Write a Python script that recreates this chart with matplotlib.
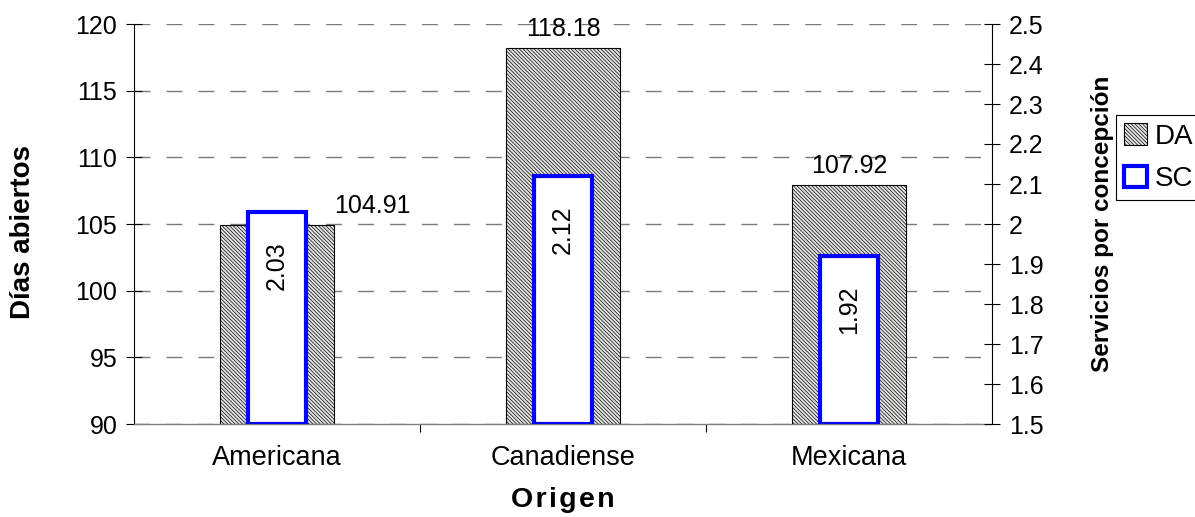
import matplotlib
matplotlib.use("Agg")
import matplotlib.pyplot as plt
from matplotlib.patches import Patch

# Data
origen = ["Americana", "Canadiense", "Mexicana"]
dias_abiertos = [104.91, 118.18, 107.92]        # DA, left axis
servicios_concepcion = [2.03, 2.12, 1.92]       # SC, right axis
da_ticks = [90, 95, 100, 105, 110, 115, 120]
sc_ticks = [1.5, 1.6, 1.7, 1.8, 1.9, 2.0, 2.1, 2.2, 2.3, 2.4, 2.5]
sc_ticklabels = ["1.5", "1.6", "1.7", "1.8", "1.9", "2", "2.1", "2.2", "2.3", "2.4", "2.5"]

plt.rcParams["font.family"] = ["Liberation Sans", "DejaVu Sans"]
plt.rcParams["hatch.linewidth"] = 0.5
plt.rcParams["hatch.color"] = "#6a6a6a"
plt.rcParams["lines.scale_dashes"] = False

DA_HATCH = "\\" * 9
DA_FACE = "#e6e6e6"

W, H = 1195, 517
fig = plt.figure(figsize=(W / 100, H / 100), dpi=100)
ax = fig.add_axes([134 / W, 1 - 424 / H, (992 - 134) / W, (424 - 24) / H])
ax2 = ax.twinx()

x = list(range(len(origen)))
da_base, sc_base = da_ticks[0], sc_ticks[0]

# Días abiertos: hatched grey bars
ax.bar(x, [v - da_base for v in dias_abiertos], bottom=da_base, width=0.40,
       facecolor=DA_FACE, edgecolor="black", linewidth=0.8, hatch=DA_HATCH, zorder=2)
# Servicios por concepción: white bars with blue outline
ax2.bar(x, [v - sc_base for v in servicios_concepcion], bottom=sc_base, width=0.20,
        facecolor="white", edgecolor="#0000ff", linewidth=3, zorder=3)

ax.set_xlim(-0.5, 2.5)
ax.set_ylim(da_ticks[0], da_ticks[-1])
ax2.set_ylim(sc_ticks[0], sc_ticks[-1])
ax.set_yticks(da_ticks)
ax2.set_yticks(sc_ticks)
ax2.set_yticklabels(sc_ticklabels)

# Category boundary ticks on the x axis, names centred under each group
ax.set_xticks([0.5, 1.5], minor=False)
ax.set_xticklabels([])
ax.set_xticks(x, minor=True)
ax.set_xticklabels(origen, minor=True)
ax.tick_params(axis="x", which="major", direction="out", length=6, width=0.8, color="black")
ax.tick_params(axis="x", which="minor", length=0, pad=15, labelsize=19.5)

ax.tick_params(axis="y", direction="inout", length=12, width=0.8, labelsize=18, pad=6)
ax2.tick_params(axis="y", direction="inout", length=12, width=0.8, labelsize=18, pad=6)

# Dashed horizontal gridlines
ax.set_axisbelow(True)
ax.yaxis.grid(True, color="#7a7a7a", linewidth=1.0, linestyle=(0, (11.5, 11.5)))

for s in ("top", "right"):
    ax.spines[s].set_visible(False)
for s in ("top", "left", "bottom"):
    ax2.spines[s].set_visible(False)
ax.spines["bottom"].set_color("#808080")
ax.spines["bottom"].set_linewidth(1.0)
ax.spines["left"].set_linewidth(0.8)
ax2.spines["right"].set_linewidth(0.8)

# Value labels for DA (the first one sits beside its bar)
for i, v in enumerate(dias_abiertos):
    if i == 0:
        ax.annotate(f"{v:.2f}", xy=(i + 0.20, v), xytext=(0, 9), textcoords="offset points",
                    ha="left", va="baseline", fontsize=18)
    else:
        ax.annotate(f"{v:.2f}", xy=(i, v), xytext=(0, 9), textcoords="offset points",
                    ha="center", va="baseline", fontsize=18)

# Value labels for SC, rotated inside the bars
for i, v in enumerate(servicios_concepcion):
    ax2.annotate(f"{v:.2f}", xy=(i, v), xytext=(0, -21), textcoords="offset points",
                 ha="center", va="top", rotation=90, fontsize=18)

# Axis titles
fig.text(23 / W, 1 - 232 / H, "Días abiertos", rotation=90, ha="center", va="center",
         fontsize=20, fontweight="bold")
fig.text(1102 / W, 1 - 224 / H, "Servicios por concepción", rotation=90, ha="center",
         va="center", fontsize=17.5, fontweight="bold")
fig.text(563 / W, 1 - 507 / H, "O\u200ar\u200ai\u200ag\u200ae\u200an", ha="center", va="baseline",
         fontsize=20.5, fontweight="bold")

# Legend
handles = [Patch(facecolor=DA_FACE, edgecolor="black", linewidth=0.8, hatch=DA_HATCH),
           Patch(facecolor="white", edgecolor="#0000ff", linewidth=3)]
leg = fig.legend(handles, ["DA", "SC"], loc="upper left",
                 bbox_to_anchor=(1116 / W, 1 - 115 / H), bbox_transform=fig.transFigure,
                 frameon=True, fancybox=False, edgecolor="black", framealpha=1,
                 fontsize=20, borderpad=0.3, borderaxespad=0, handlelength=0.8,
                 handleheight=0.8, handletextpad=0.3, labelspacing=0.58)
leg.get_frame().set_linewidth(0.8)

fig.savefig("out.png", dpi=100)
